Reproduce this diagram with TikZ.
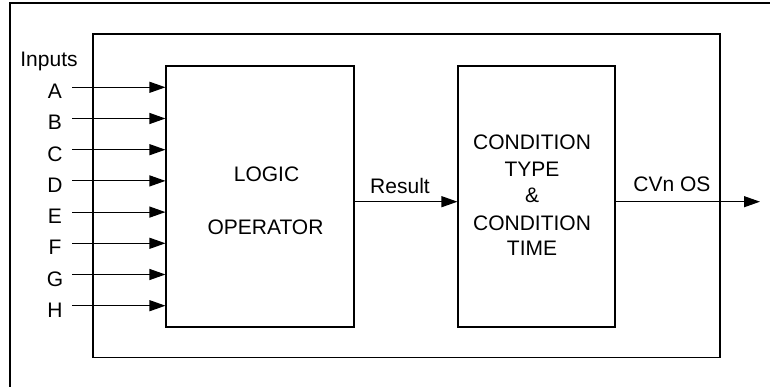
\documentclass[tikz,border=0pt]{standalone}
\usepackage{fontspec}
\setmainfont{Liberation Sans}
\usetikzlibrary{arrows.meta}
\begin{document}
\begin{tikzpicture}[x=1pt,y=-1pt,
  line width=1.1pt,
  box/.style={draw,minimum width=#1,inner sep=0pt,minimum height=261pt},
  lbl/.style={font=\fontsize{21}{26}\selectfont,inner sep=0pt,anchor=base},
  arr/.style={-{Triangle[length=16pt,width=11pt]}}]
\useasboundingbox (0,0) rectangle (770,387);
% outer frame (partly cropped)
\coordinate (ftl) at (10,3);
\coordinate (ftr) at (772,3);
\coordinate (fbl) at (10,389);
\draw (ftr) -- (ftl) -- (fbl);
% inner frame
\node[draw,minimum width=627pt,minimum height=323.5pt,inner sep=0pt] (frame) at (406.5,195.75) {};
% boxes
\node[box=188pt] (logic) at (260,196.5) {};
\node[box=157pt] (cond) at (536.5,196.5) {};
% box texts
\node[lbl] (t1) at (266.5,181.7) {LOGIC};
\node[lbl] (t2) at (265.5,234) {OPERATOR};
\node[lbl] (c1) at (532,150) {CONDITION};
\node[lbl] (c2) at (532,176.7) {TYPE};
\node[lbl] (c3) at (532,202.7) {\&};
\node[lbl] (c4) at (532,230) {CONDITION};
\node[lbl] (c5) at (532,255.5) {TIME};
% inputs
\node[lbl] (inputs) at (49,66.5) {Inputs};
\foreach \n/\y in {A/87.3,B/118.5,C/149.7,D/180.9,E/212.1,F/243.3,G/274.5,H/305.7}{
  \node[lbl] (l\n) at (55,\y+11.5) {\n};
  \coordinate (s\n) at (72,\y);
  \draw[arr] (s\n) -- (s\n -| logic.west);
}
% result
\coordinate (r) at (354,201.7);
\draw[arr] (r -| logic.east) -- (r -| cond.west);
\node[lbl] (result) at (400,193.3) {Result};
% output
\coordinate (o) at (760,201.7);
\draw[arr] (o -| cond.east) -- (o);
\node[lbl] (cvn) at (672,191.7) {CVn OS};
\end{tikzpicture}
\end{document}
